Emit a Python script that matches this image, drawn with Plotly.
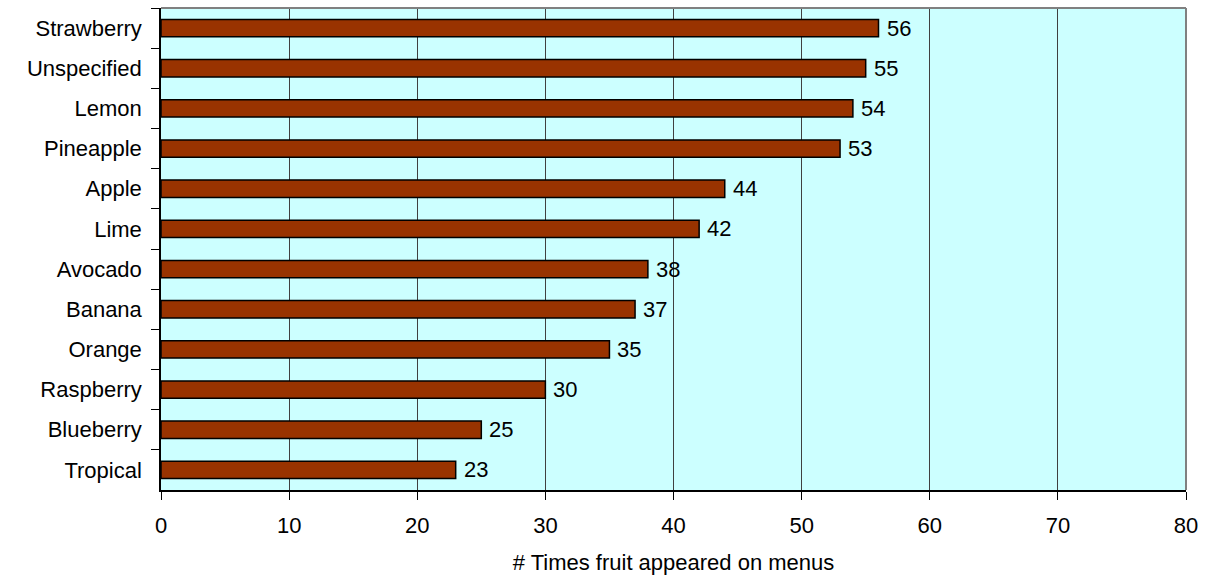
import plotly.graph_objects as go

# Fruit mentions on menus, listed top to bottom
fruits = ["Strawberry", "Unspecified", "Lemon", "Pineapple", "Apple", "Lime",
          "Avocado", "Banana", "Orange", "Raspberry", "Blueberry", "Tropical"]
counts = [56, 55, 54, 53, 44, 42, 38, 37, 35, 30, 25, 23]
x_ticks = [0, 10, 20, 30, 40, 50, 60, 70, 80]
x_title = "# Times fruit appeared on menus"

FONT = "Arial, Liberation Sans, sans-serif"
FS = 22

fig = go.Figure()
fig.add_trace(go.Bar(
    x=counts,
    y=fruits,
    orientation="h",
    width=0.43,
    marker=dict(color="#993300", line=dict(color="#000000", width=1.5)),
    hoverinfo="x+y",
))

# value labels just past the end of each bar
for f, c in zip(fruits, counts):
    fig.add_annotation(
        x=c, y=f, text=str(c), showarrow=False,
        xanchor="left", xshift=6, yanchor="middle",
        font=dict(family=FONT, size=FS, color="#000000"),
    )

# grey frame on the top and right of the plotting area
fig.add_shape(type="line", xref="paper", yref="paper", x0=0, x1=1, y0=1, y1=1,
              line=dict(color="#808080", width=2))
fig.add_shape(type="line", xref="paper", yref="paper", x0=1, x1=1, y0=0, y1=1,
              line=dict(color="#808080", width=2))

fig.update_layout(
    width=1209,
    height=576,
    margin=dict(l=161, r=23, t=8, b=86),
    paper_bgcolor="#FFFFFF",
    plot_bgcolor="#CCFFFF",
    showlegend=False,
    font=dict(family=FONT, size=FS, color="#000000"),
    bargap=0.57,
)

fig.update_xaxes(
    range=[0, 80],
    tickmode="array",
    tickvals=x_ticks,
    ticktext=[str(v) for v in x_ticks],
    ticks="outside",
    ticklen=8,
    tickcolor="#000000",
    tickwidth=1,
    showline=True,
    linecolor="#000000",
    linewidth=1.5,
    showgrid=True,
    gridcolor="#404040",
    gridwidth=1,
    zeroline=False,
    automargin=False,
    ticklabelstandoff=7,
    tickfont=dict(family=FONT, size=FS, color="#000000"),
    title=dict(text=x_title, font=dict(family=FONT, size=FS, color="#000000"), standoff=17),
)

fig.update_yaxes(
    categoryorder="array",
    categoryarray=fruits,
    autorange="reversed",
    tickson="boundaries",
    ticks="outside",
    ticklen=8,
    tickcolor="#000000",
    tickwidth=1,
    showline=True,
    linecolor="#000000",
    linewidth=1.5,
    showgrid=False,
    zeroline=False,
    automargin=False,
    ticklabelstandoff=13,
    tickfont=dict(family=FONT, size=FS, color="#000000"),
)

fig.write_html("out.html")
